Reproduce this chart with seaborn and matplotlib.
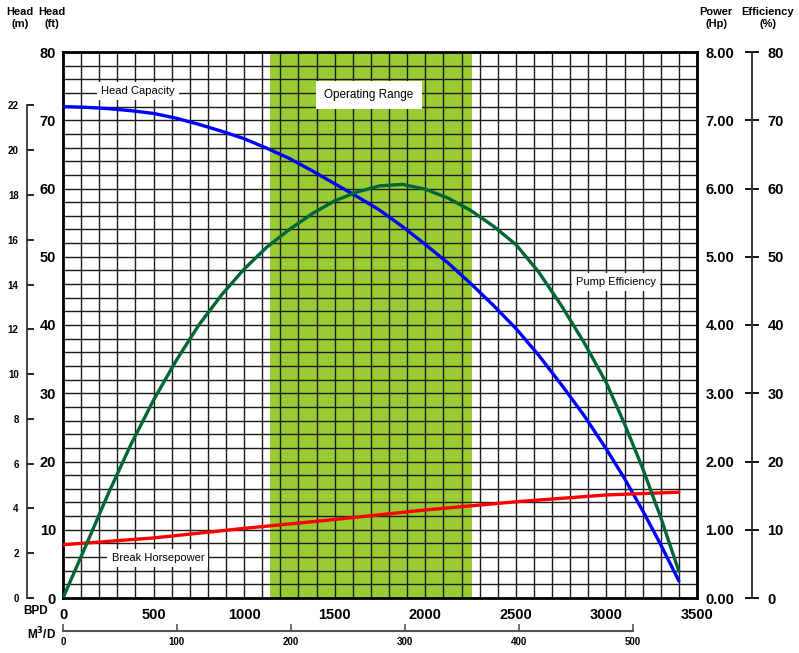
import numpy as np
import pandas as pd
import seaborn as sns
import matplotlib
import matplotlib.pyplot as plt

matplotlib.use('Agg')

# flow points (BPD)
flow_head = [0, 125, 250, 375, 500, 625, 750, 875, 1000, 1125, 1250, 1375, 1500, 1625, 1750,
             1875, 2000, 2125, 2250, 2375, 2500, 2625, 2750, 2875, 3000, 3100, 3200, 3300, 3400]
head_ft = [72.0, 71.9, 71.7, 71.4, 71.0, 70.3, 69.4, 68.4, 67.3, 65.9, 64.4, 62.6, 60.7, 58.8, 56.8,
           54.4, 51.8, 49.1, 46.1, 42.9, 39.5, 35.6, 31.3, 26.8, 21.8, 17.5, 12.8, 7.8, 2.5]

flow_eff = [0, 125, 250, 375, 500, 625, 750, 875, 1000, 1125, 1250, 1375, 1500, 1625, 1750,
            1875, 2000, 2125, 2250, 2375, 2500, 2625, 2750, 2875, 3000, 3100, 3200, 3300, 3400]
efficiency = [0, 7.6, 15.3, 22.5, 29.0, 34.8, 40.0, 44.4, 48.2, 51.4, 54.0, 56.3, 58.2, 59.5, 60.4,
              60.6, 59.9, 58.6, 56.8, 54.5, 51.8, 47.8, 42.9, 37.5, 31.5, 25.5, 19.0, 11.8, 3.9]

flow_power = [0, 500, 1000, 1500, 2000, 2500, 3000, 3400]
power_hp = [0.78, 0.88, 1.02, 1.15, 1.29, 1.41, 1.51, 1.55]

operating_range = [1140, 2260]

bpd_ticks = [0, 500, 1000, 1500, 2000, 2500, 3000, 3500]
ft_ticks = [0, 10, 20, 30, 40, 50, 60, 70, 80]
m_ticks = [0, 2, 4, 6, 8, 10, 12, 14, 16, 18, 20, 22]
hp_ticks = [0, 1, 2, 3, 4, 5, 6, 7, 8]
eff_ticks = [0, 10, 20, 30, 40, 50, 60, 70, 80]
m3d_ticks = [0, 100, 200, 300, 400, 500]

FT_PER_M = 3.28084
BBL_PER_M3 = 6.2898

sns.set_style("white")
plt.rcParams['font.family'] = ['Liberation Sans', 'DejaVu Sans']
plt.rcParams['text.color'] = 'black'
plt.rcParams['xtick.color'] = 'black'
plt.rcParams['ytick.color'] = 'black'
plt.rcParams['lines.solid_joinstyle'] = 'round'

head_df = pd.DataFrame({"bpd": flow_head, "head": head_ft})
eff_df = pd.DataFrame({"bpd": flow_eff, "eff": efficiency})
pow_df = pd.DataFrame({"bpd": flow_power, "hp": power_hp})

fig = plt.figure(figsize=(7.99, 6.53), dpi=100)
ax = fig.add_axes([63 / 799, 55 / 653, 634 / 799, 546 / 653])

ax.set_xlim(0, 3500)
ax.set_ylim(0, 80)
ax.axvspan(operating_range[0], operating_range[1], color='#99cc33', zorder=0.2, lw=0)
ax.set_xticks(bpd_ticks)
ax.set_xticks(np.arange(0, 3501, 100), minor=True)
ax.set_yticks(ft_ticks)
ax.set_yticks(np.arange(0, 81, 2), minor=True)
ax.set_axisbelow(True)
ax.grid(which='both', color='#1a1a1a', lw=1.0)
ax.tick_params(which='both', length=0)
ax.tick_params(axis='x', pad=7, labelsize=10.5)
ax.tick_params(axis='y', pad=5, labelsize=10.5)
for lab in ax.get_xticklabels() + ax.get_yticklabels():
    lab.set_fontweight('bold')
for sp in ax.spines.values():
    sp.set_linewidth(2)
    sp.set_color('black')

sns.lineplot(data=head_df, x="bpd", y="head", ax=ax, color='#0000ff', lw=2.4, zorder=4)
ax.set_xlabel("")
ax.set_ylabel("")

box = dict(facecolor='white', edgecolor='none', pad=3)
ax.text(414, 74.3, "Head Capacity", ha='center', va='center', fontsize=8, bbox=box, zorder=3)
ax.text(1689, 73.7, "Operating Range", ha='center', va='center', fontsize=8.5,
        bbox=dict(facecolor='white', edgecolor='none', pad=6), zorder=3)
ax.text(3053, 46.3, "Pump Efficiency", ha='center', va='center', fontsize=8, bbox=box, zorder=3)
ax.text(524, 5.9, "Break Horsepower", ha='center', va='center', fontsize=8, bbox=box, zorder=3)

# power axis (right of frame)
ax_p = ax.twinx()
ax_p.set_ylim(0, 8)
ax_p.set_yticks(hp_ticks)
ax_p.set_yticklabels([f"{v:.2f}" for v in hp_ticks], fontweight='bold', fontsize=10.5)
ax_p.tick_params(length=0, pad=6)
for sp in ax_p.spines.values():
    sp.set_visible(False)
sns.lineplot(data=pow_df, x="bpd", y="hp", ax=ax_p, color='#ff0000', lw=2.4)
ax_p.set_xlabel("")
ax_p.set_ylabel("")

# efficiency axis
ax_e = ax.twinx()
ax_e.set_ylim(0, 80)
ax_e.spines['right'].set_position(('axes', (752 - 63) / 634))
for k in ['left', 'top', 'bottom']:
    ax_e.spines[k].set_visible(False)
ax_e.spines['right'].set_linewidth(1.3)
ax_e.set_yticks(eff_ticks)
ax_e.set_yticklabels([str(v) for v in eff_ticks], fontweight='bold', fontsize=10.5)
ax_e.tick_params(direction='inout', length=10, width=1.3, pad=6)
sns.lineplot(data=eff_df, x="bpd", y="eff", ax=ax_e, color='#006633', lw=2.4)
ax_e.set_xlabel("")
ax_e.set_ylabel("")

# head in metres
ax_m = ax.twinx()
ax_m.set_ylim(0, 80 / FT_PER_M)
ax_m.yaxis.set_ticks_position('left')
ax_m.yaxis.set_label_position('left')
for k in ['right', 'top', 'bottom']:
    ax_m.spines[k].set_visible(False)
ax_m.spines['left'].set_visible(True)
ax_m.spines['left'].set_position(('axes', (27 - 63) / 634))
ax_m.spines['left'].set_bounds(0, 22)
ax_m.spines['left'].set_linewidth(1.2)
ax_m.set_yticks(m_ticks)
ax_m.set_yticklabels([str(v) for v in m_ticks], fontweight='bold', fontsize=7)
ax_m.tick_params(direction='in', length=5, width=1.2, pad=6)

# flow in m3/d
ax_q = ax.twiny()
ax_q.set_xlim(0, 3500 / BBL_PER_M3)
ax_q.xaxis.set_ticks_position('bottom')
ax_q.xaxis.set_label_position('bottom')
for k in ['left', 'right', 'top']:
    ax_q.spines[k].set_visible(False)
ax_q.spines['bottom'].set_visible(True)
ax_q.spines['bottom'].set_position(('axes', -(631 - 598) / 546))
ax_q.spines['bottom'].set_bounds(0, 500)
ax_q.spines['bottom'].set_color('#555555')
ax_q.spines['bottom'].set_linewidth(1.5)
ax_q.set_xticks(m3d_ticks)
ax_q.set_xticklabels([str(v) for v in m3d_ticks], fontweight='bold', fontsize=7)
ax_q.tick_params(direction='in', length=5, width=1.2, color='#555555', pad=4)

# headers
hdr = dict(ha='center', va='top', fontsize=8, fontweight='bold', linespacing=1.3)
fig.text(20 / 799, 1 - 7 / 653, "Head\n(m)", **hdr)
fig.text(52 / 799, 1 - 7 / 653, "Head\n(ft)", **hdr)
fig.text(716 / 799, 1 - 7 / 653, "Power\n(Hp)", **hdr)
fig.text(768 / 799, 1 - 7 / 653, "Efficiency\n(%)", **hdr)
fig.text(36 / 799, 1 - 611 / 653, "BPD", ha='center', va='center', fontsize=8.5, fontweight='bold')
fig.text(42 / 799, 1 - 634 / 653, "M$^\\mathbf{3}$/D", ha='center', va='center', fontsize=8.5, fontweight='bold')

fig.savefig("out.png", dpi=100)
